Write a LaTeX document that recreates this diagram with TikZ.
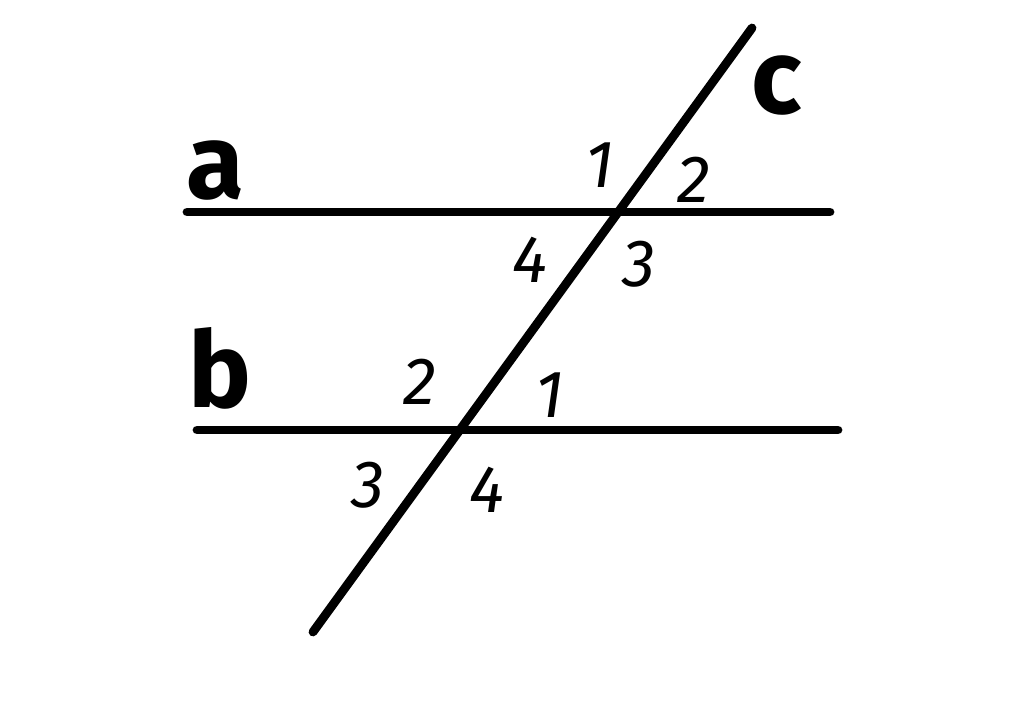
\documentclass[tikz,border=0pt]{standalone}
\usepackage{fontspec}
\setmainfont{Fira Sans}
\begin{document}
\begin{tikzpicture}[x=0.01cm,y=-0.01cm,
  ln/.style={line width=2.5pt,line cap=round},
  lbl/.style={font=\bfseries\fontsize{30}{30}\selectfont},
  num/.style={font=\itshape\fontsize{19}{19}\selectfont}]
\useasboundingbox (0,0) rectangle (1024,716);
\coordinate (a1) at (187,212);
\coordinate (a2) at (830,212);
\coordinate (b1) at (197,430);
\coordinate (b2) at (838,430);
\coordinate (c1) at (313,632);
\coordinate (c2) at (752,28);
\draw[ln] (a1) -- (a2);
\draw[ln] (b1) -- (b2);
\draw[ln] (c1) -- (c2);
\node[lbl] (la) at (215,170) {a};
\node[lbl] (lb) at (220,368) {b};
\node[lbl] (lc) at (777,85) {c};
\node[num] (n1) at (600,165) {1};
\node[num] (n2) at (694,180) {2};
\node[num] (n4) at (530,260) {4};
\node[num] (n3) at (639,264) {3};
\node[num] (m2) at (420,382) {2};
\node[num] (m1) at (550,395) {1};
\node[num] (m3) at (368,485) {3};
\node[num] (m4) at (487,490) {4};
\end{tikzpicture}
\end{document}
